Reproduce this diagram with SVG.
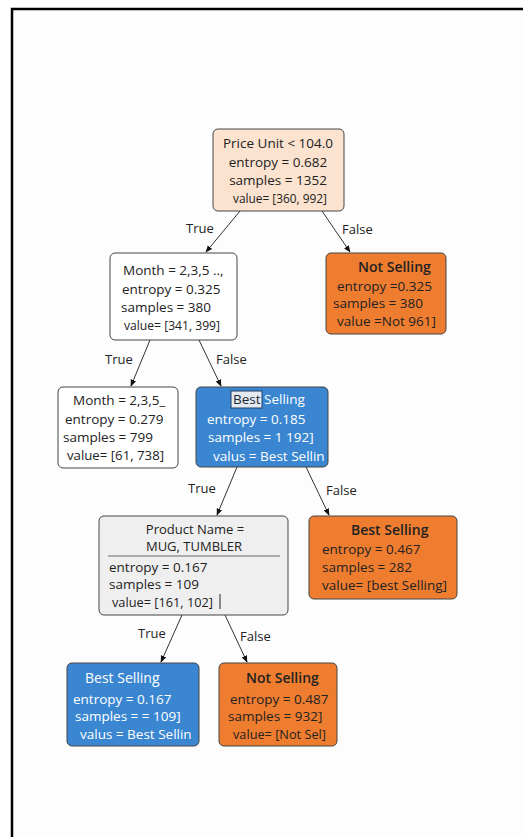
<svg xmlns="http://www.w3.org/2000/svg" width="523" height="837" viewBox="0 0 523 837">
<style>
text{font-family:"Open Sans","DejaVu Sans",sans-serif;font-size:13.5px;fill:#222}
.w text{fill:#fff}
.c{text-anchor:middle}
.t{font-weight:600;font-size:14px}
.box{stroke:#444;stroke-width:1}
.edge{stroke:#333;stroke-width:1;fill:none;marker-end:url(#ah)}
.lbl{font-size:13px;fill:#222}
</style>
<defs>
<marker id="ah" viewBox="0 0 10 10" refX="9" refY="5" markerWidth="7" markerHeight="7" orient="auto-start-reverse">
<path d="M0,1 L10,5 L0,9 z" fill="#111"/>
</marker>
</defs>
<rect x="0" y="0" width="523" height="837" fill="#ffffff"/>
<rect x="12" y="9" width="530" height="840" fill="#fdfdfd" stroke="#000" stroke-width="2.5"/>

<g id="edges">
<line class="edge" x1="240" y1="211" x2="206" y2="252"/>
<text class="lbl" x="186" y="233">True</text>
<line class="edge" x1="322" y1="211" x2="350" y2="252"/>
<text class="lbl" x="342" y="234">False</text>
<line class="edge" x1="150" y1="340" x2="131" y2="386"/>
<text class="lbl" x="105" y="364">True</text>
<line class="edge" x1="199" y1="340" x2="221" y2="386"/>
<text class="lbl" x="216" y="364">False</text>
<line class="edge" x1="237" y1="467" x2="217" y2="515"/>
<text class="lbl" x="188" y="493">True</text>
<line class="edge" x1="306" y1="467" x2="329" y2="515"/>
<text class="lbl" x="326" y="495">False</text>
<line class="edge" x1="182" y1="615" x2="161" y2="662"/>
<text class="lbl" x="138" y="638">True</text>
<line class="edge" x1="225" y1="615" x2="247" y2="662"/>
<text class="lbl" x="240" y="641">False</text>
</g>

<g id="n0">
<rect class="box" x="213" y="129" width="131" height="82" rx="5" fill="#fbe3cf"/>
<text class="c" x="278" y="148">Price Unit &lt; 104.0</text>
<text class="c" x="278" y="167">entropy = 0.682</text>
<text class="c" x="278" y="185">samples = 1352</text>
<text x="233" y="203" textLength="94" lengthAdjust="spacingAndGlyphs">value= [360, 992]</text>
</g>

<g id="n1">
<rect class="box" x="110" y="253" width="127" height="87" rx="5" fill="#ffffff"/>
<text x="123" y="275">Month = 2,3,5 ..,</text>
<text x="122" y="294">entropy = 0.325</text>
<text x="121" y="312">samples = 380</text>
<text x="124" y="330" textLength="96" lengthAdjust="spacingAndGlyphs">value= [341, 399]</text>
</g>

<g id="n2">
<rect class="box" x="326" y="253" width="120" height="81" rx="5" fill="#ef7d2f"/>
<text class="t" x="358" y="272">Not Selling</text>
<text x="337" y="291">entropy =0.325</text>
<text x="333" y="308">samples = 380</text>
<text x="337" y="326">value =Not 961]</text>
</g>

<g id="n3">
<rect class="box" x="58" y="387" width="120" height="81" rx="5" fill="#ffffff"/>
<text x="73" y="405">Month = 2,3,5_</text>
<text x="65" y="424">entropy = 0.279</text>
<text x="63" y="442">samples = 799</text>
<text x="67" y="460" textLength="97" lengthAdjust="spacingAndGlyphs">value= [61, 738]</text>
</g>

<g id="n4" class="w">
<rect class="box" x="196" y="387" width="132" height="80" rx="5" fill="#3a86d1"/>
<rect x="231" y="391" width="31" height="17" fill="#e4e9ef" stroke="#1f3f66" stroke-width="1"/>
<text x="233" y="404" style="fill:#1a2a3a">Best</text>
<text x="264" y="404">Selling</text>
<text x="207" y="424">entropy = 0.185</text>
<text x="208" y="442">samples = 1 192]</text>
<text x="213" y="461">valus = Best Sellin</text>
</g>

<g id="n5">
<rect class="box" x="99" y="516" width="189" height="99" rx="5" fill="#efefef"/>
<text class="c" x="195" y="534" style="font-size:13px">Product Name =</text>
<text class="c" x="194" y="551" style="font-size:13px">MUG, TUMBLER</text>
<line x1="108" y1="556" x2="280" y2="556" stroke="#666" stroke-width="1"/>
<text x="109" y="572">entropy = 0.167</text>
<text x="109" y="589">samples = 109</text>
<text x="112" y="607" textLength="101" lengthAdjust="spacingAndGlyphs">value= [161, 102]</text>
<line x1="220" y1="594" x2="220" y2="609" stroke="#222" stroke-width="1"/>
</g>

<g id="n6">
<rect class="box" x="309" y="516" width="148" height="83" rx="5" fill="#ef7d2f"/>
<text class="t" x="351" y="535">Best Selling</text>
<text x="322" y="554">entropy = 0.467</text>
<text x="322" y="572">samples = 282</text>
<text x="322" y="590">value= [best Selling]</text>
</g>

<g id="n7" class="w">
<rect class="box" x="67" y="663" width="132" height="83" rx="5" fill="#3a86d1"/>
<text x="85" y="683" style="font-size:14px">Best Selling</text>
<text x="73" y="704">entropy = 0.167</text>
<text x="75" y="721">samples = = 109]</text>
<text x="80" y="739">valus = Best Sellin</text>
</g>

<g id="n8">
<rect class="box" x="219" y="663" width="118" height="83" rx="5" fill="#ef7d2f"/>
<text class="t" x="246" y="683">Not Selling</text>
<text x="230" y="704">entropy = 0.487</text>
<text x="228" y="721">samples = 932]</text>
<text x="233" y="739" textLength="93" lengthAdjust="spacingAndGlyphs">value= [Not Sel]</text>
</g>
</svg>
